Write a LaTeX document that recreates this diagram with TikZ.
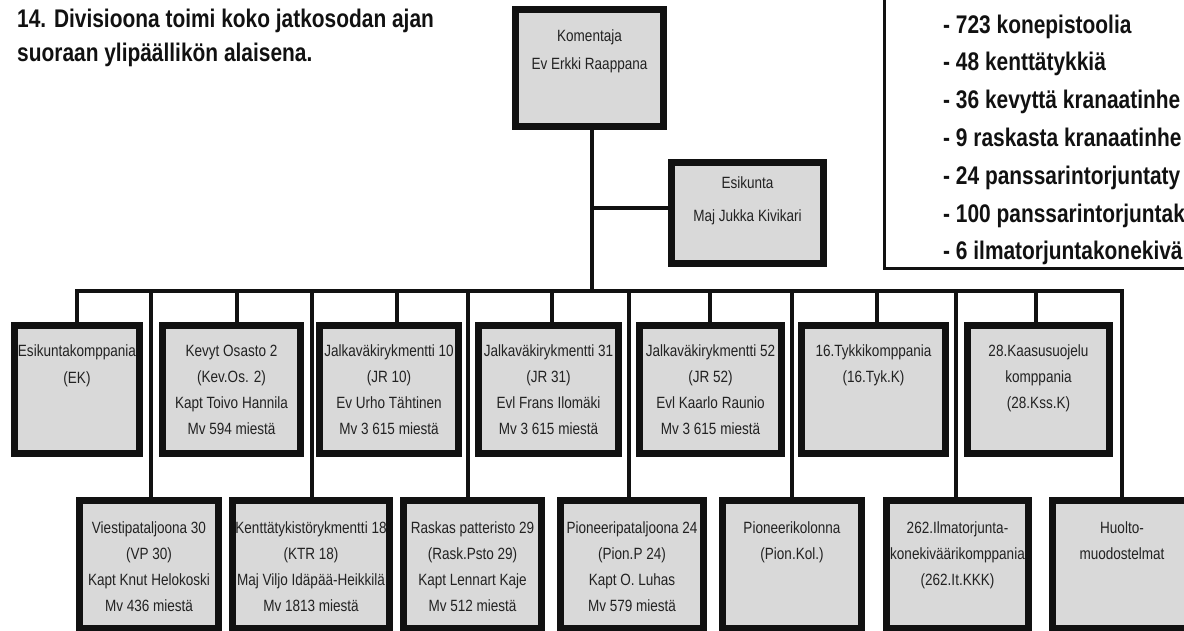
\documentclass[tikz,border=0pt]{standalone}
\usepackage{fontspec}
\setmainfont{Liberation Sans}[FakeStretch=0.82]
\newfontfamily\boxfont{Liberation Sans}[FakeStretch=0.83]
\definecolor{boxgray}{HTML}{D9D9D9}
\definecolor{ink}{HTML}{111111}
\definecolor{txt}{HTML}{222222}
\newcommand\boxlines[5]{\parbox[c][#2pt][t]{#1pt}{\centering\boxfont\fontsize{16.3pt}{#4pt}\selectfont\rule{0pt}{#3pt}#5\par}}
\begin{document}
\begin{tikzpicture}[x=1pt,y=-1pt,
  unit/.style={draw=ink, line width=7pt, fill=boxgray, inner sep=0pt, outer sep=0pt, text=txt},
  link/.style={draw=ink, line width=4pt, line join=miter},
  frame/.style={draw=ink, line width=3pt},
  title/.style={font=\fontsize{25.5pt}{30pt}\selectfont\bfseries, anchor=base west, inner sep=0pt, text=ink},
]
\useasboundingbox (0,0) rectangle (1184,630);

% title
\node[title] (t1) at (17,27) {14. Divisioona toimi koko jatkosodan ajan};
\node[title] (t2) at (17,61) {suoraan ylipäällikön alaisena.};

% info box (cut by the page edges)
\draw[frame] (884,-10) rectangle (1200,268);
\node[title] (i1) at (943,33)    {- 723 konepistoolia};
\node[title] (i2) at (943,70.8)  {- 48 kenttätykkiä};
\node[title] (i3) at (943,108.6) {- 36 kevyttä kranaatinhe};
\node[title] (i4) at (943,146.4) {- 9 raskasta kranaatinhe};
\node[title] (i5) at (943,184.2) {- 24 panssarintorjuntaty};
\node[title] (i6) at (943,222)   {- 100 panssarintorjuntak};
\node[title] (i7) at (943,259.8) {- 6 ilmatorjuntakonekivä};

% command
\node[unit] (kom) at (589.5,68) {\boxlines{148}{117}{31.5}{28}{Komentaja\\Ev Erkki Raappana}};
\node[unit] (esk) at (747.5,213) {\boxlines{152}{101}{25.5}{33}{Esikunta\\Maj Jukka Kivikari}};

% row 1
\node[unit] (ek)   at (77,389.5)    {\boxlines{125}{128}{30.5}{27}{Esikuntakomppania\\(EK)}};
\node[unit] (kev)  at (231.5,389.5) {\boxlines{138}{128}{30.5}{26}{Kevyt Osasto 2\\(Kev.Os. 2)\\Kapt Toivo Hannila\\Mv 594 miestä}};
\node[unit] (jr10) at (389,389.5)   {\boxlines{139}{128}{30.5}{26}{Jalkaväkirykmentti 10\\(JR 10)\\Ev Urho Tähtinen\\Mv 3 615 miestä}};
\node[unit] (jr31) at (548.5,389.5) {\boxlines{140}{128}{30.5}{26}{Jalkaväkirykmentti 31\\(JR 31)\\Evl Frans Ilomäki\\Mv 3 615 miestä}};
\node[unit] (jr52) at (710.5,389.5) {\boxlines{142}{128}{30.5}{26}{Jalkaväkirykmentti 52\\(JR 52)\\Evl Kaarlo Raunio\\Mv 3 615 miestä}};
\node[unit] (tyk)  at (873.5,389.5) {\boxlines{144}{128}{30.5}{26}{16.Tykkikomppania\\(16.Tyk.K)}};
\node[unit] (kss)  at (1038.5,389.5){\boxlines{142}{128}{30.5}{26}{28.Kaasusuojelu\\komppania\\(28.Kss.K)}};

% row 2
\node[unit] (vp)   at (149,564.5)   {\boxlines{139}{128}{33}{26}{Viestipataljoona 30\\(VP 30)\\Kapt Knut Helokoski\\Mv 436 miestä}};
\node[unit] (ktr)  at (311,564.5)   {\boxlines{157}{128}{33}{26}{Kenttätykistörykmentti 18\\(KTR 18)\\Maj Viljo Idäpää-Heikkilä\\Mv 1813 miestä}};
\node[unit] (rask) at (472.5,564.5) {\boxlines{138}{128}{33}{26}{Raskas patteristo 29\\(Rask.Psto 29)\\Kapt Lennart Kaje\\Mv 512 miestä}};
\node[unit] (pionp) at (632,564.5)  {\boxlines{143}{128}{33}{26}{Pioneeripataljoona 24\\(Pion.P 24)\\Kapt O. Luhas\\Mv 579 miestä}};
\node[unit] (pionk) at (792,564.5)  {\boxlines{139}{128}{33}{26}{Pioneerikolonna\\(Pion.Kol.)}};
\node[unit] (itk)  at (957.5,564.5) {\boxlines{142}{128}{33}{26}{262.Ilmatorjunta-\\konekiväärikomppania\\(262.It.KKK)}};
\node[unit] (huolto) at (1122,564.5){\boxlines{139}{128}{33}{26}{Huolto-\\muodostelmat}};

% connectors
\coordinate (bus) at (592,290.5);
\path ([xshift=2.5pt]kom.south) coordinate (spine);
\draw[link] (spine) -- (spine |- bus);
\path ([yshift=5pt]esk.west) coordinate (eskin);
\draw[link] (eskin) -- (eskin -| spine);
\draw[link] (ek.north) -- (ek.north |- bus) -- (huolto.north |- bus) -- (huolto.north);
\foreach \n/\s in {kev/5.5, jr10/8, jr31/3.5, jr52/-0.5, tyk/3.5, kss/-2.5,
                   vp/2, ktr/1, rask/-4.5, pionp/-3, pionk/0, itk/-1.5} {
  \path ([xshift=\s pt]\n.north) coordinate (drop);
  \draw[link] (drop |- bus) -- (drop);
}
\end{tikzpicture}
\end{document}
